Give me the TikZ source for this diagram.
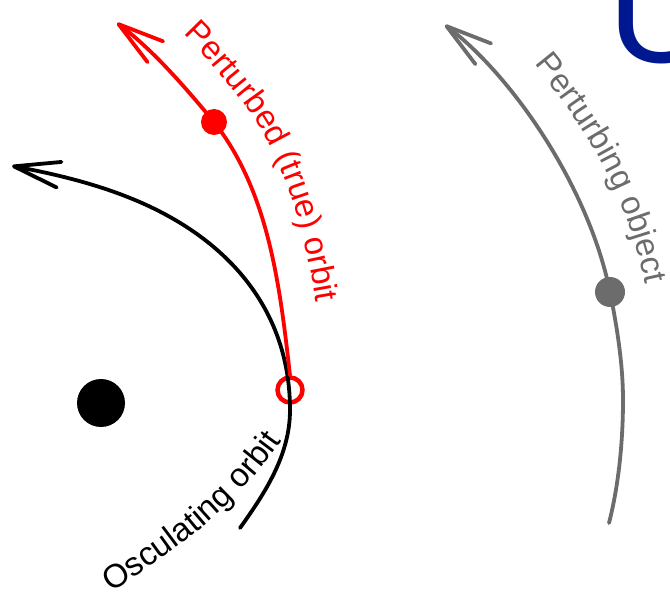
\documentclass[tikz,border=0pt]{standalone}
\usepackage{fontspec}
\setmainfont{Liberation Sans}
\usetikzlibrary{arrows.meta,decorations.text}
\definecolor{grayobj}{RGB}{108,108,108}
\definecolor{darkblue}{RGB}{0,24,143}
\newcommand\lblfont{\fontsize{33}{39}\selectfont}
\begin{document}
\begin{tikzpicture}[x=1pt,y=-1pt,
  orbit/.style={line width=3.8pt, line cap=round},
  tipped/.style={-{Straight Barb[length=46pt,width=26pt,round]}},
  dot/.style={circle, inner sep=0pt, draw=none}
]
\useasboundingbox (0,0) rectangle (670,596);
% stray blue letter
\node[anchor=base west, inner sep=0pt, text=darkblue, font=\fontsize{152}{155}\selectfont] (U) at (607,63) {U};
% bodies
\node[dot, minimum size=48pt, fill=black] (focus) at (101,403) {};
\node[dot, minimum size=26pt, fill=red] (rdot) at (214,122) {};
\node[dot, minimum size=30pt, fill=grayobj] (gdot) at (610,292) {};
\node[circle, draw=red, line width=4.5pt, minimum size=25pt, inner sep=0pt] (osc) at (290,390) {};
% tip coordinates
\coordinate (btip) at (12,166);
\coordinate (rtip) at (117,23);
\coordinate (gtip) at (445,25);
\coordinate (bstart) at (240,528);
\coordinate (gstart) at (609,523);
% osculating orbit
\draw[orbit, black, tipped] (bstart) .. controls (265,493) and (290,455) .. (290,410)
  .. controls (290,320) and (240,256) .. (170,217)
  .. controls (122,190) and (66,176) .. (btip);
% perturbed orbit
\draw[orbit, red, tipped] (osc.north) .. controls (280,287) and (269,192) .. (rdot.center)
  .. controls (185,87) and (153,50) .. (rtip);
% perturbing object
\draw[orbit, grayobj, tipped] (gstart) .. controls (619,484) and (623,440) .. (623,400)
  .. controls (623,364) and (617,327) .. (gdot.center)
  .. controls (588,184) and (510,74) .. (gtip);
% labels
\path[decorate, decoration={text along path, text={|\lblfont\color{red}|Perturbed (true) orbit}, text align=left}]
  (183,34) .. controls (205,55) and (222,77) .. (241,100) .. controls (297,170) and (316,283) .. (326,372);
\path[decorate, decoration={text along path, text={|\lblfont\color{grayobj}|Perturbing object}, text align=left}]
  (534,64) .. controls (598,141) and (630,209) .. (646,287) .. controls (653,322) and (660,362) .. (660,402);
\path[decorate, decoration={text along path, text={|\lblfont|Osculating orbit}, text align=left}]
  (111,592) .. controls (178,549) and (227,514) .. (275,450) -- (300,415);
\end{tikzpicture}
\end{document}
